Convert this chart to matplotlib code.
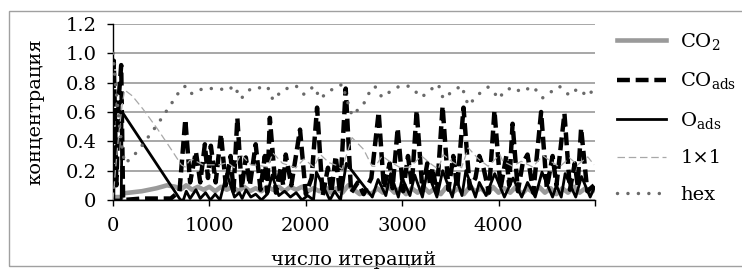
import matplotlib
matplotlib.use("Agg")
import matplotlib.pyplot as plt
from matplotlib.patches import Rectangle

plt.rcParams['font.family'] = ['DejaVu Serif']
plt.rcParams['mathtext.fontset'] = 'dejavuserif'

# ---------------- data ----------------
co2_x = [0, 10, 90, 100, 300, 450, 560, 650, 700, 760, 820, 880, 940, 1000, 1060, 1120, 1180, 1240,
         1300, 1360, 1420, 1480, 1540, 1600, 1660, 1720, 1780, 1840, 1900, 1960, 2020, 2080, 2140,
         2200, 2260, 2320, 2380, 2440, 2500, 2560, 2620, 2680, 2740, 2800, 2860, 2920, 2980, 3040,
         3100, 3160, 3220, 3280, 3340, 3400, 3460, 3520, 3580, 3640, 3700, 3760, 3820, 3880, 3940,
         4000, 4060, 4120, 4180, 4240, 4300, 4360, 4420, 4480, 4540, 4600, 4660, 4720, 4780, 4840,
         4900, 4960, 4990]
co2_y = [0.0, 0.02, 0.02, 0.045, 0.06, 0.08, 0.1, 0.09, 0.07, 0.1, 0.07, 0.09, 0.07, 0.09, 0.06, 0.09,
         0.07, 0.09, 0.06, 0.09, 0.06, 0.08, 0.06, 0.09, 0.07, 0.09, 0.06, 0.09, 0.07, 0.09, 0.06, 0.08,
         0.06, 0.09, 0.05, 0.08, 0.05, 0.1, 0.07, 0.04, 0.06, 0.04, 0.08, 0.05, 0.09, 0.05, 0.08, 0.04,
         0.08, 0.05, 0.09, 0.05, 0.08, 0.04, 0.09, 0.05, 0.08, 0.04, 0.09, 0.06, 0.08, 0.04, 0.09, 0.05,
         0.08, 0.05, 0.09, 0.04, 0.08, 0.05, 0.09, 0.05, 0.08, 0.04, 0.08, 0.05, 0.09, 0.05, 0.08, 0.05,
         0.07]

coads_x = [0, 8, 35, 60, 85, 105, 300, 600, 690, 750, 800, 860, 905, 953, 985, 1015, 1065, 1120, 1170,
           1220, 1250, 1290, 1335, 1378, 1420, 1480, 1530, 1575, 1600, 1627, 1690, 1740, 1765, 1792,
           1850, 1940, 2000, 2060, 2117, 2175, 2230, 2265, 2310, 2355, 2414, 2470, 2540, 2600, 2680,
           2756, 2810, 2870, 2900, 2953, 3010, 3060, 3100, 3150, 3210, 3260, 3290, 3315, 3360, 3419,
           3480, 3530, 3570, 3636, 3700, 3760, 3800, 3843, 3900, 3957, 4020, 4080, 4110, 4145, 4200,
           4250, 4300, 4360, 4441, 4500, 4560, 4600, 4683, 4740, 4790, 4820, 4856, 4920, 4990]
coads_y = [0.0, 0.95, 0.1, 0.7, 0.92, 0.0, 0.01, 0.01, 0.06, 0.55, 0.12, 0.33, 0.12, 0.38, 0.15, 0.37,
           0.12, 0.45, 0.1, 0.3, 0.06, 0.56, 0.08, 0.29, 0.1, 0.38, 0.07, 0.3, 0.05, 0.56, 0.05, 0.22,
           0.1, 0.31, 0.1, 0.48, 0.04, 0.15, 0.63, 0.03, 0.22, 0.05, 0.30, 0.05, 0.76, 0.05, 0.12, 0.04,
           0.15, 0.60, 0.08, 0.25, 0.08, 0.49, 0.06, 0.3, 0.1, 0.61, 0.06, 0.25, 0.1, 0.22, 0.05, 0.64,
           0.07, 0.3, 0.08, 0.63, 0.08, 0.15, 0.3, 0.22, 0.05, 0.61, 0.08, 0.3, 0.1, 0.52, 0.06, 0.25,
           0.31, 0.05, 0.60, 0.08, 0.3, 0.1, 0.59, 0.07, 0.25, 0.1, 0.49, 0.06, 0.1]

oads_x = [0, 85, 95, 700, 730, 760, 800, 860, 905, 960, 1010, 1060, 1110, 1180, 1260, 1310, 1340, 1380,
          1430, 1480, 1540, 1600, 1650, 1720, 1780, 1840, 1900, 1960, 2020, 2080, 2110, 2250, 2300,
          2360, 2420, 2690, 2750, 2830, 2880, 2960, 3000, 3080, 3130, 3210, 3260, 3360, 3420, 3520,
          3560, 3620, 3660, 3760, 3800, 3870, 3960, 4060, 4150, 4240, 4300, 4380, 4450, 4560, 4600,
          4650, 4690, 4800, 4860, 4950, 4990]
oads_y = [0.0, 0.0, 0.6, 0.0, 0.0, 0.06, 0.01, 0.07, 0.01, 0.05, 0.0, 0.04, 0.0, 0.18, 0.02, 0.05, 0.01,
          0.07, 0.02, 0.04, 0.0, 0.04, 0.17, 0.03, 0.06, 0.02, 0.05, 0.0, 0.03, 0.0, 0.19, 0.0, 0.06,
          0.0, 0.25, 0.02, 0.14, 0.03, 0.18, 0.02, 0.15, 0.03, 0.17, 0.02, 0.2, 0.02, 0.2, 0.02, 0.15,
          0.03, 0.2, 0.02, 0.12, 0.03, 0.18, 0.02, 0.15, 0.02, 0.12, 0.02, 0.19, 0.02, 0.1, 0.02, 0.18,
          0.02, 0.16, 0.02, 0.08]

surf_x = [0, 25, 60, 95, 121, 200, 311, 466, 604, 708, 749, 794, 829, 932, 1015, 1100, 1188, 1257, 1326,
          1430, 1520, 1602, 1661, 1758, 1896, 1982, 2082, 2151, 2240, 2324, 2376, 2480, 2600, 2687,
          2722, 2791, 2877, 2981, 3080, 3201, 3290, 3374, 3426, 3520, 3616, 3685, 3790, 3892, 4013,
          4044, 4147, 4234, 4354, 4458, 4550, 4631, 4735, 4821, 4925, 4990]
hex_y = [1.0, 0.8, 0.55, 0.35, 0.25, 0.29, 0.38, 0.52, 0.655, 0.76, 0.775, 0.73, 0.725, 0.76, 0.76, 0.76,
         0.745, 0.78, 0.69, 0.76, 0.765, 0.775, 0.68, 0.75, 0.78, 0.72, 0.775, 0.69, 0.745, 0.765, 0.79,
         0.575, 0.655, 0.77, 0.77, 0.70, 0.74, 0.78, 0.775, 0.70, 0.75, 0.79, 0.69, 0.74, 0.78, 0.644,
         0.72, 0.77, 0.69, 0.736, 0.77, 0.736, 0.775, 0.697, 0.74, 0.775, 0.713, 0.76, 0.706, 0.76]
one_y = [0.0, 0.2, 0.45, 0.65, 0.75, 0.71, 0.62, 0.48, 0.345, 0.24, 0.225, 0.27, 0.275, 0.24, 0.24, 0.24,
         0.255, 0.22, 0.31, 0.24, 0.235, 0.225, 0.32, 0.25, 0.22, 0.28, 0.225, 0.31, 0.255, 0.235, 0.21,
         0.425, 0.345, 0.23, 0.23, 0.30, 0.26, 0.22, 0.225, 0.30, 0.25, 0.21, 0.31, 0.26, 0.22, 0.356,
         0.28, 0.23, 0.31, 0.264, 0.23, 0.264, 0.225, 0.303, 0.26, 0.225, 0.287, 0.24, 0.294, 0.24]

labels = ['CO$_2$', 'CO$_{\\mathrm{ads}}$', 'O$_{\\mathrm{ads}}$', '1×1', 'hex']
y_ticks = [0, 0.2, 0.4, 0.6, 0.8, 1.0, 1.2]
y_ticklabels = ['0', '0.2', '0.4', '0.6', '0.8', '1.0', '1.2']
x_ticks = [0, 1000, 2000, 3000, 4000, 5000]
x_ticklabels = ['0', '1000', '2000', '3000', '4000', '']
xlabel = 'число итераций'
ylabel = 'концентрация'

# ---------------- figure ----------------
W, H = 742, 272
fig = plt.figure(figsize=(W / 100, H / 100), dpi=100)
fig.patches.append(Rectangle((9 / W, 1 - 266 / H), 740 / W, 255 / H, transform=fig.transFigure,
                             fill=False, edgecolor='#a0a0a0', linewidth=1.0))
ax = fig.add_axes([113 / W, 1 - 200 / H, (595 - 113) / W, (200 - 24) / H])

FS = 14
ax.plot(co2_x, co2_y, color='#9a9a9a', lw=3.3, solid_joinstyle='round', label=labels[0], zorder=3)
ax.plot(coads_x, coads_y, color='black', lw=3.2, linestyle=(0, (2.9, 1.3)), label=labels[1], zorder=4)
ax.plot(oads_x, oads_y, color='black', lw=2.0, label=labels[2], zorder=5)
ax.plot(surf_x, one_y, color='#a8a8a8', lw=0.9, linestyle=(0, (6, 3)), label=labels[3], zorder=6)
ax.plot(surf_x, hex_y, color='#6a6a6a', lw=2.5, linestyle=(0, (0.01, 3.0)), dash_capstyle='round',
        label=labels[4], zorder=7)

ax.set_xlim(0, 5000)
ax.set_ylim(0, 1.2)
ax.set_yticks(y_ticks)
ax.set_yticklabels(y_ticklabels, fontsize=FS)
ax.set_xticks(x_ticks)
ax.set_xticklabels(x_ticklabels, fontsize=FS)
ax.yaxis.grid(True, color='#a0a0a0', lw=1.3)
ax.set_axisbelow(True)
for s in ['top', 'right']:
    ax.spines[s].set_visible(False)
for s in ['left', 'bottom']:
    ax.spines[s].set_linewidth(1.0)
ax.tick_params(axis='y', direction='out', length=4, width=1.0, pad=8)
ax.tick_params(axis='x', direction='out', length=4, width=1.0, pad=8)
ax.set_xlabel(xlabel, fontsize=FS, labelpad=12)
ax.set_ylabel(ylabel, fontsize=FS, labelpad=15)

leg = ax.legend(loc='upper left', bbox_to_anchor=(617 / W, 1 - 31 / H), bbox_transform=fig.transFigure,
                frameon=False, fontsize=FS, handlelength=2.5, handletextpad=0.75, labelspacing=0.95,
                borderpad=0, borderaxespad=0)

fig.savefig('out.png', dpi=100)
